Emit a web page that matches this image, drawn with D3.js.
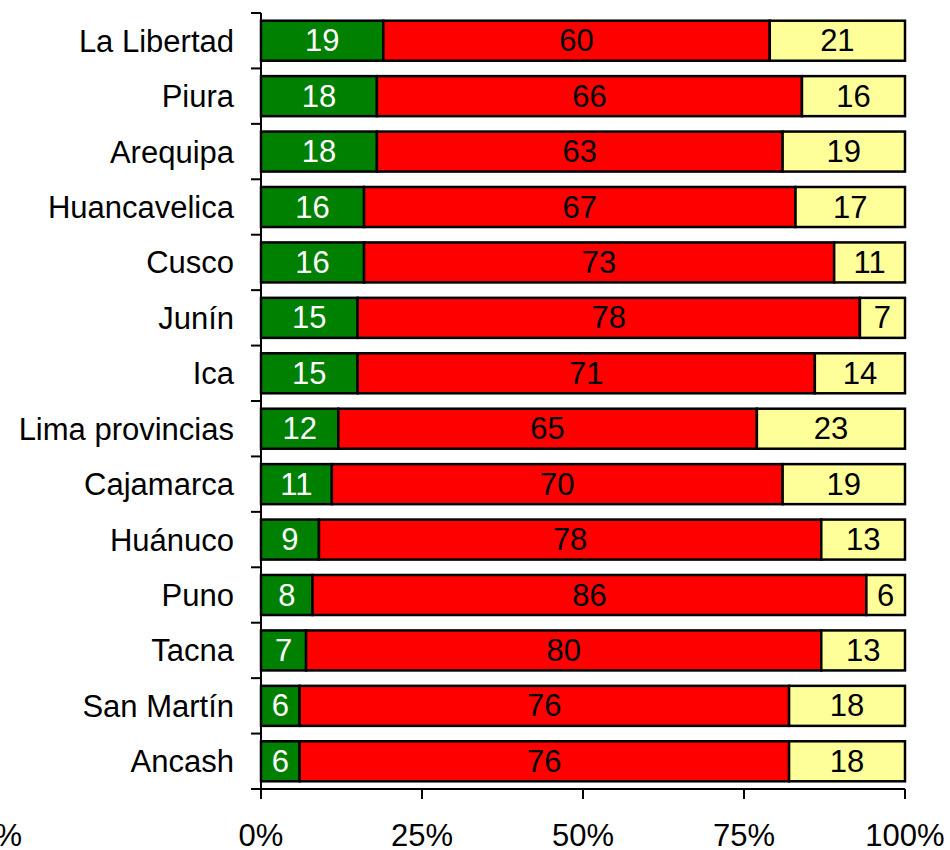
<!DOCTYPE html>
<html><head><meta charset="utf-8">
<script src="https://cdn.jsdelivr.net/npm/d3@7"></script>
<style>body{margin:0;background:#fff;} svg{display:block;}</style>
</head><body>
<script>
const categories = ["La Libertad","Piura","Arequipa","Huancavelica","Cusco","Junín","Ica","Lima provincias","Cajamarca","Huánuco","Puno","Tacna","San Martín","Ancash"];
const greenValues = [19,18,18,16,16,15,15,12,11,9,8,7,6,6];
const redValues = [60,66,63,67,73,78,71,65,70,78,86,80,76,76];
const yellowValues = [21,16,19,17,11,7,14,23,19,13,6,13,18,18];
const xTicks = [0,25,50,75,100];
const seriesColors = ["#008000","#FF0000","#FFFF99"];
const labelColors = ["#ffffff","#000000","#000000"];

const W = 950, H = 850;
const svg = d3.select("body").append("svg").attr("width", W).attr("height", H);
const font = "Liberation Sans, Arial, sans-serif";
const fs = 31;

const x = d3.scaleLinear().domain([0,100]).range([261,905]);
const y = d3.scaleBand().domain(categories).range([13,789]).paddingInner(0.278).paddingOuter(0.139);

const rows = categories.map((c,i)=>({cat:c, vals:[greenValues[i], redValues[i], yellowValues[i]]}));

rows.forEach(r=>{
  let acc = 0;
  r.vals.forEach((v,k)=>{
    const x0 = acc, x1 = acc + v; acc = x1;
    svg.append("rect")
      .attr("x", x(x0)).attr("y", y(r.cat))
      .attr("width", x(x1)-x(x0)).attr("height", y.bandwidth())
      .attr("fill", seriesColors[k]).attr("stroke","#000").attr("stroke-width",2.5);
    svg.append("text")
      .attr("x", (x(x0)+x(x1))/2).attr("y", y(r.cat)+y.bandwidth()/2 + 10.5)
      .attr("text-anchor","middle")
      .attr("font-family",font).attr("font-size",fs).attr("fill",labelColors[k])
      .text(v);
  });
});

// Y axis
const step = y.step();
const yTickPos = d3.range(categories.length+1).map(i=>13 + i*step);
svg.append("line").attr("x1",261).attr("x2",261).attr("y1",13).attr("y2",799)
  .attr("stroke","#000").attr("stroke-width",2);
yTickPos.forEach(p=>{
  svg.append("line").attr("x1",251).attr("x2",261).attr("y1",p).attr("y2",p)
    .attr("stroke","#000").attr("stroke-width",2);
});
categories.forEach(c=>{
  svg.append("text").attr("x",234).attr("y",y(c)+y.bandwidth()/2 + 11)
    .attr("text-anchor","end")
    .attr("font-family",font).attr("font-size",fs).attr("fill","#000").text(c);
});

// X axis
svg.append("line").attr("x1",261).attr("x2",905).attr("y1",789).attr("y2",789)
  .attr("stroke","#000").attr("stroke-width",2);
xTicks.forEach(t=>{
  svg.append("line").attr("x1",x(t)).attr("x2",x(t)).attr("y1",789).attr("y2",799)
    .attr("stroke","#000").attr("stroke-width",2);
  svg.append("text").attr("x",x(t)).attr("y",846)
    .attr("text-anchor","middle")
    .attr("font-family",font).attr("font-size",fs).attr("fill","#000").text(t+"%");
});
// clipped stray label at far left
svg.append("text").attr("x",22).attr("y",846)
  .attr("text-anchor","end")
  .attr("font-family",font).attr("font-size",fs).attr("fill","#000").text("%");
</script>
</body></html>
